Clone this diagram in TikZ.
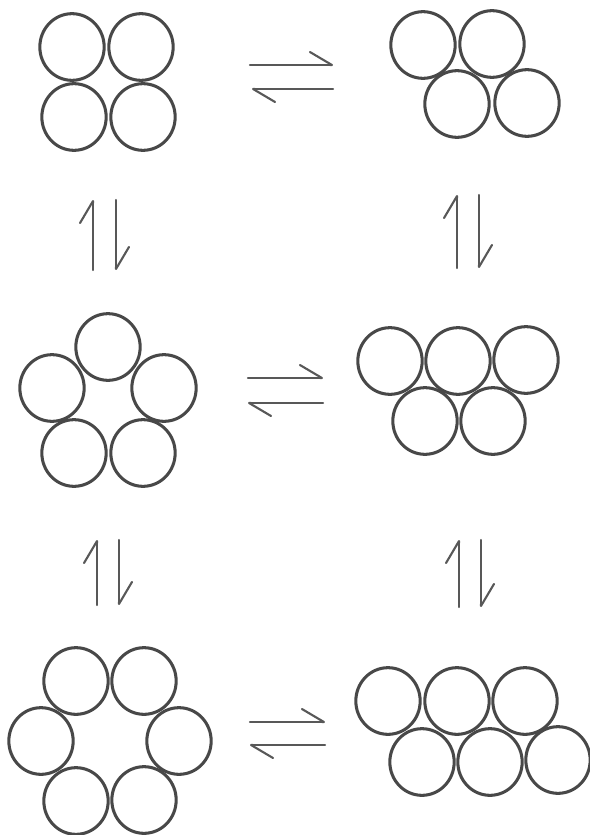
\documentclass[tikz,border=0pt]{standalone}
\usepackage{tikz}
\usetikzlibrary{arrows.meta,shapes.geometric}
\definecolor{ink700}{HTML}{484848}
\definecolor{ink500}{HTML}{585858}
\tikzset{
  ball/.style ={ellipse, draw=ink700, line width=2.6pt, inner sep=0pt,
                minimum width=1.93cm, minimum height=2.0cm},
  harp/.style ={-{Straight Barb[left,round,length=6.6mm,width=7.8mm]},
                draw=ink500, line width=1.8pt, line cap=round}
}

\begin{document}
\begin{tikzpicture}[x=0.03cm,y=-0.03cm]
\useasboundingbox (0,0) rectangle (590,835);
% four: square and rhombus
\node[ball] (sqa) at (72,47) {};
\node[ball] (sqb) at (141,47) {};
\node[ball] (sqc) at (74,117) {};
\node[ball] (sqd) at (143,117) {};
\node[ball] (rha) at (423,45) {};
\node[ball] (rhb) at (492,44) {};
\node[ball] (rhc) at (457,104) {};
\node[ball] (rhd) at (527,103) {};
% five: ring and two rows
\node[ball] (pna) at (108,347) {};
\node[ball] (pnb) at (164,388) {};
\node[ball] (pnc) at (143,453) {};
\node[ball] (pnd) at (74,453) {};
\node[ball] (pne) at (52,388) {};
\node[ball] (roa) at (390,361) {};
\node[ball] (rob) at (458,361) {};
\node[ball] (roc) at (526,360) {};
\node[ball] (rod) at (425,421) {};
\node[ball] (roe) at (493,421) {};
% six: ring and two rows
\node[ball] (hxa) at (76,681) {};
\node[ball] (hxb) at (144,681) {};
\node[ball] (hxc) at (179,741) {};
\node[ball] (hxd) at (144,800) {};
\node[ball] (hxe) at (76,801) {};
\node[ball] (hxf) at (41,741) {};
\node[ball] (sxa) at (388,701) {};
\node[ball] (sxb) at (457,701) {};
\node[ball] (sxc) at (525,701) {};
\node[ball] (sxd) at (422,762) {};
\node[ball] (sxe) at (490,762) {};
\node[ball] (sxf) at (558,760) {};

% equilibrium signs
\coordinate (eqa) at (291.5,77);
\coordinate (eqb) at (285.5,390.5);
\coordinate (eqc) at (287.5,733.5);
\coordinate (eqd) at (104.5,235);
\coordinate (eqe) at (468,231.5);
\coordinate (eqf) at (108,572.5);
\coordinate (eqg) at (470,573.5);

\draw[harp] ([shift={(-41.5,-12)}]eqa) -- ([shift={(41.5,-12)}]eqa);
\draw[harp] ([shift={(41.5,12)}]eqa) -- ([shift={(-39.5,12)}]eqa);
\draw[harp] ([shift={(-37.5,-12.5)}]eqb) -- ([shift={(37.5,-12.5)}]eqb);
\draw[harp] ([shift={(37.5,12.5)}]eqb) -- ([shift={(-37.5,12.5)}]eqb);
\draw[harp] ([shift={(-37.5,-11.5)}]eqc) -- ([shift={(37.5,-11.5)}]eqc);
\draw[harp] ([shift={(37.5,11.5)}]eqc) -- ([shift={(-37.5,11.5)}]eqc);

\draw[harp] ([shift={(-11.5,35)}]eqd) -- ([shift={(-11.5,-35)}]eqd);
\draw[harp] ([shift={(11.5,-35)}]eqd) -- ([shift={(11.5,35)}]eqd);
\draw[harp] ([shift={(-11,36.5)}]eqe) -- ([shift={(-11,-36.5)}]eqe);
\draw[harp] ([shift={(11,-36.5)}]eqe) -- ([shift={(11,36.5)}]eqe);
\draw[harp] ([shift={(-11,32.5)}]eqf) -- ([shift={(-11,-32.5)}]eqf);
\draw[harp] ([shift={(11,-32.5)}]eqf) -- ([shift={(11,32.5)}]eqf);
\draw[harp] ([shift={(-11,33.5)}]eqg) -- ([shift={(-11,-33.5)}]eqg);
\draw[harp] ([shift={(11,-33.5)}]eqg) -- ([shift={(11,33.5)}]eqg);
\end{tikzpicture}
\end{document}
